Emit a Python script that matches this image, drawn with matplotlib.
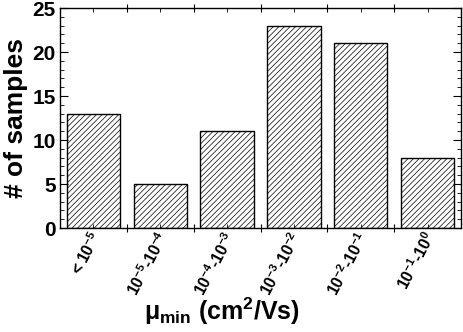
import matplotlib
matplotlib.use('Agg')
import matplotlib.pyplot as plt
from matplotlib.ticker import MultipleLocator

plt.rcParams['font.family'] = ['Liberation Sans', 'DejaVu Sans']
plt.rcParams['font.weight'] = 'bold'
plt.rcParams['mathtext.fontset'] = 'custom'
plt.rcParams['mathtext.rm'] = 'Liberation Sans:bold'
plt.rcParams['mathtext.it'] = 'Liberation Sans:bold'
plt.rcParams['mathtext.bf'] = 'Liberation Sans:bold'
plt.rcParams['hatch.color'] = '#666666'
plt.rcParams['hatch.linewidth'] = 0.5

# mobility ranges and counts
ranges = [r'$<10^{-5}$', r'$10^{-5}$-$10^{-4}$', r'$10^{-4}$-$10^{-3}$',
          r'$10^{-3}$-$10^{-2}$', r'$10^{-2}$-$10^{-1}$', r'$10^{-1}$-$10^{0}$']
counts = [13, 5, 11, 23, 21, 8]

fig = plt.figure(figsize=(4.63, 3.32), dpi=100)
ax = fig.add_axes([60 / 463, 1 - 228 / 332, 401 / 463, 220 / 332])

x = list(range(len(counts)))
ax.bar(x, counts, width=0.8, color='white', edgecolor='black',
       linewidth=1.0, hatch='//////')

ax.set_xlim(-0.5, len(counts) - 0.5)
ax.set_ylim(0, 25)

ax.yaxis.set_major_locator(MultipleLocator(5))
ax.yaxis.set_minor_locator(MultipleLocator(1))
ax.tick_params(axis='y', which='both', direction='in', left=True, right=True)
ax.tick_params(axis='y', which='major', length=6, labelsize=15, pad=3)
ax.tick_params(axis='y', which='minor', length=3)

# x ticks: boundaries on bottom, half steps on top
ax.set_xticks([i + 0.5 for i in x[:-1]])
ax.set_xticks(x, minor=True)
ax.set_xticklabels([])
ax.tick_params(axis='x', which='major', direction='inout', length=6, top=True)
ax.tick_params(axis='x', which='minor', direction='in', length=3, top=True)

for xi, lab in zip(x, ranges):
    ax.text(xi + 0.05, -0.6, lab, rotation=62, rotation_mode='anchor',
            ha='right', va='center', fontsize=11.5, fontweight='bold')

for s in ax.spines.values():
    s.set_linewidth(1.0)

ax.set_ylabel('# of samples', fontsize=19, fontweight='bold', labelpad=3)
fig.text(222 / 463, 1 - 311 / 332, r'$\mu_{\mathrm{min}}$ (cm$^2$/Vs)',
         ha='center', va='center', fontsize=18, fontweight='bold')

fig.savefig('out.png', dpi=100)
